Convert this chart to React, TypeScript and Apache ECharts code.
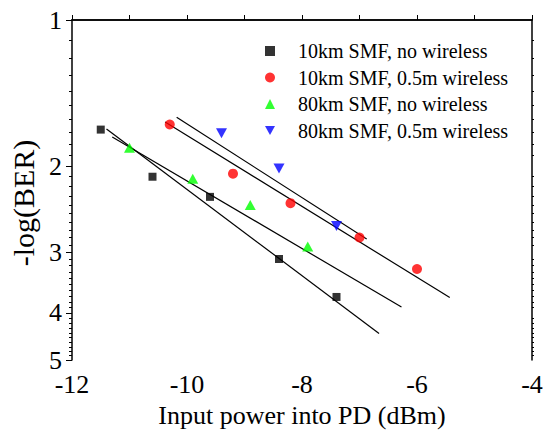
import React, { useEffect, useRef } from "react";
import * as echarts from "echarts";

// -log(BER) vs input power (dBm)
const blackX = [-11.5, -10.6, -9.6, -8.4, -7.4];
const blackY = [1.68, 2.1, 2.31, 3.1, 3.71];
const redX = [-10.3, -9.2, -8.2, -7.0, -6.0];
const redY = [1.64, 2.07, 2.38, 2.8, 3.25];
const greenX = [-11.0, -9.9, -8.9, -7.9];
const greenY = [1.83, 2.12, 2.4, 2.92];
const blueX = [-9.4, -8.4, -7.4];
const blueY = [1.71, 2.02, 2.65];

// linear fit lines (endpoints)
const blackFitX = [-11.4, -6.66];
const blackFitY = [1.675, 4.41];
const greenFitX = [-11.3, -6.27];
const greenFitY = [1.74, 3.89];
const redFitX = [-10.38, -5.43];
const redFitY = [1.62, 3.72];
const blueFitX = [-10.18, -6.875];
const blueFitY = [1.585, 2.82];

const seriesNames = [
  "10km SMF, no wireless",
  "10km SMF, 0.5m wireless",
  "80km SMF, no wireless",
  "80km SMF, 0.5m wireless",
];

const yMajor = [1, 2, 3, 4, 5];
const yMinor = [
  1.1, 1.2, 1.3, 1.4, 1.5, 1.6, 1.7, 1.8, 1.9,
  2.1, 2.2, 2.3, 2.4, 2.5, 2.6, 2.7, 2.8, 2.9,
  3.1, 3.2, 3.3, 3.4, 3.5, 3.6, 3.7, 3.8, 3.9,
  4.1, 4.2, 4.3, 4.4, 4.5, 4.6, 4.7, 4.8, 4.9,
];

const L = (v: number) => Math.log10(v);
const pts = (xs: number[], ys: number[]) => xs.map((x, i) => [x, L(ys[i])]);

const FONT = "Liberation Serif";

export default function App() {
  const ref = useRef<HTMLDivElement>(null);
  useEffect(() => {
    document.body.style.margin = "0";
    const chart = echarts.init(ref.current!, undefined, { renderer: "svg" });
    const yBase = {
      type: "value",
      min: 0,
      max: L(5),
      inverse: true,
      splitLine: { show: false },
    };
    const fitLine = (xs: number[], ys: number[]) => ({
      type: "line",
      data: pts(xs, ys),
      symbol: "none",
      silent: true,
      lineStyle: { color: "#000", width: 1.2 },
      z: 1,
    });
    chart.setOption({
      animation: false,
      backgroundColor: "#fff",
      grid: {
        left: 72,
        right: 11,
        top: 20,
        bottom: 74,
        containLabel: false,
        outerBoundsMode: "none",
      },
      legend: {
        orient: "vertical",
        left: 260,
        top: 36,
        itemWidth: 10,
        itemHeight: 10,
        itemGap: 6.5,
        data: seriesNames,
        textStyle: {
          fontFamily: FONT,
          fontSize: 20,
          lineHeight: 20,
          color: "#000",
          padding: [0, 0, 0, 18],
        },
      },
      xAxis: [
        {
          type: "value",
          min: -12,
          max: -4,
          interval: 2,
          position: "bottom",
          name: "Input power into PD (dBm)",
          nameLocation: "middle",
          nameGap: 42,
          nameTextStyle: { fontFamily: FONT, fontSize: 26, color: "#000" },
          axisLine: { lineStyle: { color: "#000", width: 1.5 } },
          axisTick: { inside: true, length: 5, lineStyle: { color: "#000" } },
          minorTick: { show: true, splitNumber: 2, length: 5, lineStyle: { color: "#000" } },
          axisLabel: {
            fontFamily: FONT,
            fontSize: 26,
            lineHeight: 26,
            color: "#000",
            margin: 11,
          },
          splitLine: { show: false },
        },
        {
          type: "value",
          min: -12,
          max: -4,
          interval: 2,
          position: "top",
          axisLine: { show: true, lineStyle: { color: "#000", width: 1.5 } },
          axisTick: { show: false },
          axisLabel: { show: false },
          splitLine: { show: false },
        },
      ],
      yAxis: [
        {
          ...yBase,
          position: "left",
          name: "-log(BER)",
          nameLocation: "middle",
          nameGap: 32,
          nameTextStyle: {
            fontFamily: FONT,
            fontSize: 30,
            color: "#000",
            padding: [0, 26, 0, 0],
          },
          axisLine: { show: true, lineStyle: { color: "#000", width: 1.5 } },
          axisTick: {
            show: true,
            length: 6,
            customValues: yMajor.map(L),
            lineStyle: { color: "#000" },
          },
          axisLabel: {
            fontFamily: FONT,
            fontSize: 26,
            lineHeight: 20,
            color: "#000",
            margin: 10,
            customValues: yMajor.map(L),
            formatter: (v: number) => String(Math.round(Math.pow(10, v))),
          },
        },
        {
          ...yBase,
          position: "left",
          axisLine: { show: false },
          axisTick: {
            show: true,
            length: 3,
            customValues: yMinor.map(L),
            lineStyle: { color: "#000" },
          },
          axisLabel: { show: false },
        },
        {
          ...yBase,
          position: "right",
          axisLine: { show: true, lineStyle: { color: "#000", width: 1.5 } },
          axisTick: {
            show: true,
            length: 2,
            customValues: yMinor.map(L),
            lineStyle: { color: "#000" },
          },
          axisLabel: { show: false },
        },
      ],
      series: [
        {
          name: seriesNames[0],
          type: "scatter",
          data: pts(blackX, blackY),
          symbol: "rect",
          symbolSize: 8,
          itemStyle: { color: "#000000" },
          z: 3,
        },
        {
          name: seriesNames[1],
          type: "scatter",
          data: pts(redX, redY),
          symbol: "circle",
          symbolSize: 10,
          itemStyle: { color: "#ff0000" },
          z: 3,
        },
        {
          name: seriesNames[2],
          type: "scatter",
          data: pts(greenX, greenY),
          symbol: "triangle",
          symbolSize: [11, 10],
          itemStyle: { color: "#00ff00" },
          z: 3,
        },
        {
          name: seriesNames[3],
          type: "scatter",
          data: pts(blueX, blueY),
          symbol: "path://M0,0 L10,0 L5,9 Z",
          symbolSize: [11, 10],
          itemStyle: { color: "#0000ff" },
          z: 3,
        },
        fitLine(blackFitX, blackFitY),
        fitLine(greenFitX, greenFitY),
        fitLine(redFitX, redFitY),
        fitLine(blueFitX, blueFitY),
      ],
    });
    return () => chart.dispose();
  }, []);
  return (
    <div
      ref={ref}
      style={{ position: "fixed", left: 0, top: 0, width: 543, height: 434 }}
    />
  );
}
